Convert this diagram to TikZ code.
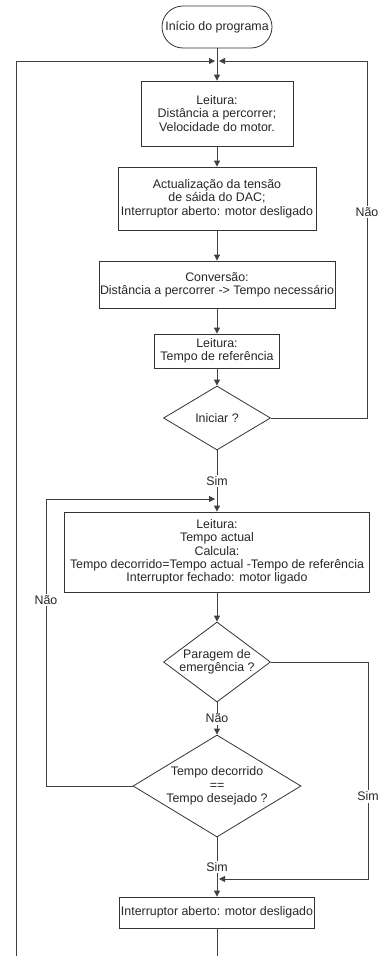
\documentclass[tikz,border=0pt]{standalone}
\usepackage{fontspec}
\setmainfont{Liberation Sans}
\usetikzlibrary{shapes.geometric,arrows.meta}

\newcommand{\ColMid}{217}
\newcommand{\OuterL}{16}
\newcommand{\OuterR}{367}
\newcommand{\InnerL}{46}

\tikzset{
  flow/.style={draw=black!75, line width=0.8pt},
  tip/.style={-{Triangle[length=6pt,width=6pt]}},
  txt/.style={font=\fontsize{12.4}{13.3}\selectfont, text=black!85, align=center},
  proc/.style={txt, draw=black!80, line width=0.8pt, inner sep=0pt},
  decision/.style={txt, diamond, draw=black!80, line width=0.8pt, inner sep=-2pt},
  lbl/.style={txt, fill=white, inner sep=1.5pt}
}

\begin{document}
\begin{tikzpicture}[x=1pt,y=-1pt]
\useasboundingbox (0,0) rectangle (378,956);

\coordinate (topJ) at (\ColMid,61);
\coordinate (midJ) at (\ColMid,499);
\coordinate (lowJ) at (\ColMid,879);
\coordinate (outB) at (\OuterL,956);
\coordinate (endB) at (\ColMid,956);

\node[proc, rounded corners=21pt, minimum width=110pt, minimum height=42pt] (start) at (\ColMid,27) {Início do programa};
\node[proc, minimum width=152pt, minimum height=65pt] (read1) at (\ColMid,113.5) {Leitura:\\ Distância a percorrer;\\ Velocidade do motor.};
\node[proc, minimum width=198pt, minimum height=63pt] (dac) at (\ColMid,198.5) {Actualização da tensão\\ de sáida do DAC;\\ Interruptor aberto: motor desligado};
\node[proc, minimum width=236pt, minimum height=47pt] (conv) at (\ColMid,284.5) {Conversão:\\ Distância a percorrer -> Tempo necessário};
\node[proc, minimum width=125pt, minimum height=34pt] (read2) at (\ColMid,351) {Leitura:\\ Tempo de referência};
\node[decision, aspect=1.67, minimum width=107pt, minimum height=64pt] (go) at (\ColMid,418) {Iniciar ?};
\node[proc, minimum width=305pt, minimum height=80pt] (calc) at (\ColMid,552) {Leitura:\\ Tempo actual\\ Calcula:\\ Tempo decorrido=Tempo actual -Tempo de referência\\ Interruptor fechado: motor ligado};
\node[decision, aspect=1.34, minimum width=107pt, minimum height=80pt] (stop) at (\ColMid,662) {Paragem de\\ emergência ?};
\node[decision, aspect=1.65, minimum width=168pt, minimum height=102pt] (done) at (\ColMid,786) {Tempo decorrido\\ ==\\ Tempo desejado ?};
\node[proc, minimum width=195pt, minimum height=31pt] (off) at (\ColMid,912.5) {Interruptor aberto: motor desligado};

\draw[flow,tip] (start) -- (read1);% main column
\draw[flow,tip] (read1) -- (dac);
\draw[flow,tip] (dac) -- (conv);
\draw[flow,tip] (conv) -- (read2);
\draw[flow,tip] (read2) -- (go);
\draw[flow,tip] (go) -- node[lbl]{Sim} (calc);
\draw[flow,tip] (calc) -- (stop);
\draw[flow,tip] (stop) -- node[lbl]{Não} (done);
\draw[flow,tip] (done) -- node[lbl]{Sim} (off);
\draw[flow] (off) -- (endB);
\draw[flow,tip] (outB) |- ([xshift=-2pt]topJ);% outer loop
\draw[flow,tip] (go.east) -- (\OuterR,418) -- node[lbl,pos=0.577]{Não} (\OuterR,61) -- ([xshift=2pt]topJ);% wait for start
\draw[flow,tip] (done.west) -- (\InnerL,786) -- node[lbl,pos=0.648]{Não} (\InnerL,499) -- ([xshift=-2pt]midJ);% inner loop
\draw[flow,tip] (stop.east) -- (368,662) -- node[lbl,pos=0.62]{Sim} (368,879) -- ([xshift=2pt]lowJ);% emergency
\end{tikzpicture}
\end{document}
